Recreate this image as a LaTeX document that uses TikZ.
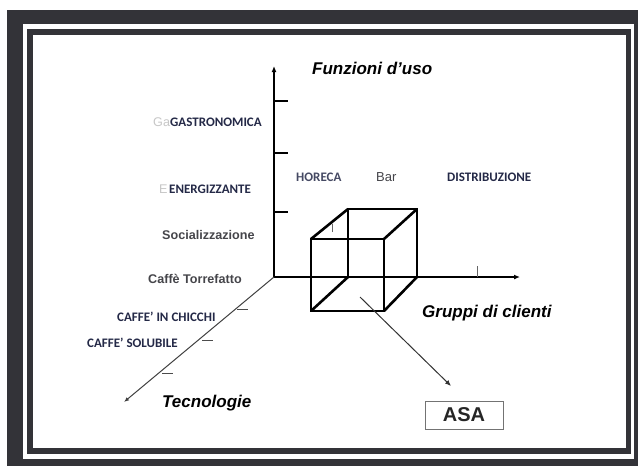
\documentclass[tikz,border=0pt]{standalone}
\usepackage{fontspec}
\setmainfont{Liberation Sans}
\newfontfamily\calibrifont{Carlito}
\usetikzlibrary{arrows.meta}
\definecolor{framedark}{rgb}{0.2,0.2,0.22}
\definecolor{navy}{rgb}{0.14,0.16,0.28}
\definecolor{labelgray}{rgb}{0.27,0.27,0.29}
\tikzset{
  axislabel/.style={font=\fontsize{17}{18}\selectfont\bfseries\itshape, anchor=west, inner sep=0pt},
  caplabel/.style={font=\calibrifont\fontsize{13}{14}\selectfont\bfseries, text=navy, anchor=west, inner sep=0pt},
  graylabel/.style={font=\fontsize{12.6}{14}\selectfont\bfseries, text=labelgray, anchor=west, inner sep=0pt},
  ghost/.style={font=\fontsize{12.6}{14}\selectfont, text=black!22, anchor=west, inner sep=0pt},
  axis/.style={line width=1.3pt, -{Latex[length=6pt,width=5pt]}},
  tick/.style={line width=1.1pt},
  thintick/.style={line width=0.6pt, draw=black!60},
  cubeedge/.style={line width=2.6pt, line cap=round, line join=round},
}
\begin{document}
\begin{tikzpicture}[x=1pt, y=-1pt]
\useasboundingbox (0,0) rectangle (639,466);
% double frame
\fill[framedark] (7,10) rectangle (638,466);
\fill[white] (23,23.5) rectangle (634,458.5);
\fill[framedark] (27,29) rectangle (631,454);
\fill[white] (33,35) rectangle (626,448);

% axes
\coordinate (O) at (274,277);
\coordinate (ztop) at (274,66);
\coordinate (xend) at (520,277);
\coordinate (tend) at (124,402);
\draw[axis] (O) -- (ztop);
\draw[axis] (O) -- (xend);
\draw[axis, line width=1pt, draw=black!75, -{Latex[length=5pt,width=4pt]}] (O) -- (tend);

% ticks on the vertical axis
\foreach \ty/\nm in {101/za,153/zb,212/zc}{
  \coordinate (\nm1) at (274,\ty);
  \coordinate (\nm2) at (288,\ty);
  \draw[tick] (\nm1) -- (\nm2);
}
% ticks on the horizontal axis
\coordinate (xa1) at (477,277); \coordinate (xa2) at (477,266);
\draw[thintick] (xa1) -- (xa2);
\coordinate (xb1) at (417,277); \coordinate (xb2) at (417,268);
\draw[thintick] (xb1) -- (xb2);
\coordinate (xc1) at (332,232); \coordinate (xc2) at (332,224);
\draw[thintick] (xc1) -- (xc2);
% ticks on the diagonal axis
\foreach \tx/\ty/\nm in {237/309/ta,202/340/tb,162/373/tc}{
  \coordinate (\nm1) at (\tx,\ty);
  \coordinate (\nm2) at (\tx+11,\ty);
  \draw[line width=1pt, draw=black!70] (\nm1) -- (\nm2);
}

% cube
\coordinate (f1) at (311,239);
\coordinate (f2) at (384,239);
\coordinate (f3) at (384,311);
\coordinate (f4) at (311,311);
\coordinate (b1) at (348,209);
\coordinate (b2) at (417,209);
\coordinate (b3) at (417,277);
\coordinate (b4) at (348,277);
\draw[cubeedge] (f1) -- (f2) -- (f3) -- (f4) -- cycle;
\draw[cubeedge] (b1) -- (b2) -- (b3) -- (b4) -- cycle;
\draw[cubeedge] (f1) -- (b1);
\draw[cubeedge] (f2) -- (b2);
\draw[cubeedge] (f3) -- (b3);
\draw[cubeedge] (f4) -- (b4);

% ASA box and pointer
\node[draw=black!55, line width=1pt, minimum width=78pt, minimum height=28pt, inner sep=0pt,
      font=\fontsize{20}{21}\selectfont\bfseries, text=black!85] (asa) at (464,415) {ASA};
\coordinate (pstart) at (360,297);
\coordinate (ptip) at (451,386);
\draw[line width=1pt, draw=black!80, -{Latex[length=6pt,width=5pt]}] (pstart) -- (ptip);

% axis titles
\node[axislabel] (tf) at (312,68) {Funzioni d’uso};
\node[axislabel] (tg) at (422,313) {Gruppi di clienti};
\node[axislabel] (tt) at (162,403) {Tecnologie};

% labels along the vertical axis
\node[ghost] (g1) at (153,122) {Ga};
\node[caplabel] (l1) at (170,122) {GASTRONOMICA};
\node[ghost] (g2) at (159,189) {E};
\node[caplabel] (l2) at (169,189) {ENERGIZZANTE};
\node[graylabel] (l3) at (162,235) {Socializzazione};
\node[graylabel] (l4) at (148,279) {Caffè Torrefatto};

% labels along the diagonal axis
\node[caplabel] (l5) at (117,317) {CAFFE’ IN CHICCHI};
\node[caplabel] (l6) at (87,343) {CAFFE’ SOLUBILE};

% labels along the horizontal axis
\node[caplabel, text=navy!85] (l7) at (296,177) {HORECA};
\node[graylabel, font=\fontsize{13}{14}\selectfont] (l8) at (376,177) {Bar};
\node[caplabel] (l9) at (447,177) {DISTRIBUZIONE};
\end{tikzpicture}
\end{document}
